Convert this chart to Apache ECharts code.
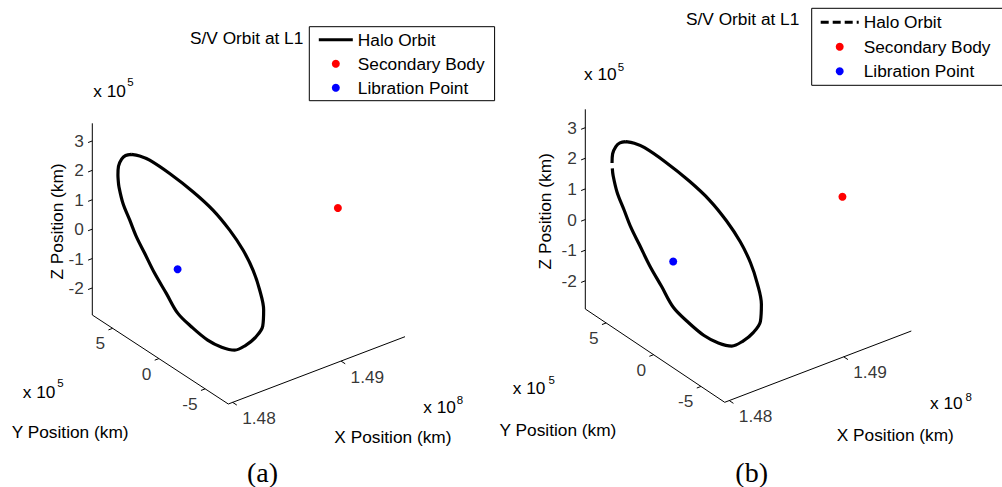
<!DOCTYPE html>
<html>
<head>
<meta charset="utf-8">
<script src="https://cdn.jsdelivr.net/npm/echarts@6/dist/echarts.min.js"></script>
<style>
html,body{margin:0;padding:0;background:#fff;}
#chart{width:1002px;height:487px;}
</style>
</head>
<body>
<div id="chart"></div>
<script>
// ---------- data ----------
// axis limits (X in 1e8 km, Y and Z in 1e5 km)
const xRange = [1.4796, 1.4959];
const yRange = [-7.5, 7.2];
const zRange = [-2.92, 3.6];
// tick values
const xTicks = [1.48, 1.49];
const yTicks = [-5, 0, 5];
const zTicks = [-2, -1, 0, 1, 2, 3];
const xTickLabels = ['1.48', '1.49'];
const yTickLabels = ['-5', '0', '5'];
const zTickLabels = ['-2', '-1', '0', '1', '2', '3'];
// points (X, Y, Z)
const secondaryBody = [1.4958, -0.36, 0];
const librationPoint = [1.4810, -0.38, 0];
// halo orbit, read off the image and expressed on the plane X = orbitPlaneX
// (the 2-D picture cannot resolve depth), Y and Z in 1e5 km
const orbitPlaneX = 1.4810;
const orbitY = [4.62, 3.72, 2.64, 0.48, -2.04, -4.20, -6.01, -7.45, -8.53, -9.25, -9.68, -9.58,
  -8.82, -7.74, -6.55, -5.14, -3.63, -1.90, -0.39, 0.84, 2.10, 3.18, 4.08, 4.80, 5.53, 5.96,
  6.04, 6.07, 6.01, 5.67, 5.24, 4.62];
const orbitZ = [2.88, 3.01, 3.09, 3.08, 2.98, 2.80, 2.49, 2.11, 1.65, 1.12, 0.53, -0.04,
  -0.57, -1.07, -1.48, -1.67, -1.74, -1.65, -1.49, -1.07, -0.65, -0.19, 0.19, 0.61, 1.03, 1.50,
  1.71, 1.88, 2.19, 2.50, 2.71, 2.88];
// index after which panel (b)'s dashed orbit shows a visible break
const orbitBreakB = 26;

// ---------- views (screen projection of the 3-D box for each panel) ----------
const views = {
  a: { corner: [228.3, 404], xVec: [176.7, -67.3], yVec: [-136, -89], zVec: [0, -191.7] },
  b: { corner: [724.7, 402.3], xVec: [186.6, -71.3], yVec: [-139.4, -93.3], zVec: [0, -199.7] }
};
function proj(v, X, Y, Z) {
  const fx = (X - xRange[0]) / (xRange[1] - xRange[0]);
  const fy = (Y - yRange[0]) / (yRange[1] - yRange[0]);
  const fz = (Z - zRange[0]) / (zRange[1] - zRange[0]);
  return [v.corner[0] + fx * v.xVec[0] + fy * v.yVec[0] + fz * v.zVec[0],
          v.corner[1] + fx * v.xVec[1] + fy * v.yVec[1] + fz * v.zVec[1]];
}
function unit(vec, len) {
  const n = Math.hypot(vec[0], vec[1]);
  return [vec[0] / n * len, vec[1] / n * len];
}

const FONT = 'Liberation Sans';
const FS = 17.3;
const series = [];
const graphic = [];

function buildPanel(key, dashed) {
  const v = views[key];
  const [x0, x1] = xRange, [y0, y1] = yRange, [z0, z1] = zRange;
  // axis box lines
  series.push({
    type: 'line', silent: true, symbol: 'none', z: 1,
    lineStyle: { color: '#000', width: 1 },
    data: [proj(v, x0, y1, z1), proj(v, x0, y1, z0), proj(v, x0, y0, z0), proj(v, x1, y0, z0)]
  });
  // tick marks
  const tickData = [];
  const tX = unit([-v.xVec[0], -v.xVec[1]], 4.5); // ticks on Y and Z axes point along -X
  const tY = unit([-v.yVec[0], -v.yVec[1]], 5);   // ticks on X axis point along -Y
  zTicks.forEach(z => { const p = proj(v, x0, y1, z); tickData.push(p, [p[0] + tX[0], p[1] + tX[1]], ['-', '-']); });
  yTicks.forEach(y => { const p = proj(v, x0, y, z0); tickData.push(p, [p[0] + tX[0], p[1] + tX[1]], ['-', '-']); });
  xTicks.forEach(x => { const p = proj(v, x, y0, z0); tickData.push(p, [p[0] + tY[0], p[1] + tY[1]], ['-', '-']); });
  series.push({
    type: 'line', silent: true, symbol: 'none', z: 1, connectNulls: false,
    lineStyle: { color: '#000', width: 1 }, data: tickData
  });
  // tick labels
  const lbl = { show: true, formatter: '{b}', color: '#000', fontFamily: FONT, fontSize: FS };
  series.push({
    type: 'scatter', silent: true, symbolSize: 1, itemStyle: { color: 'rgba(0,0,0,0)' },
    label: Object.assign({ position: 'left', distance: 8 }, lbl),
    data: zTicks.map((z, i) => ({ name: zTickLabels[i], value: proj(v, x0, y1, z) }))
  });
  series.push({
    type: 'scatter', silent: true, symbolSize: 1, itemStyle: { color: 'rgba(0,0,0,0)' },
    label: Object.assign({ position: 'left', distance: 7, offset: [0, 15] }, lbl),
    data: yTicks.map((y, i) => ({ name: yTickLabels[i], value: proj(v, x0, y, z0) }))
  });
  series.push({
    type: 'scatter', silent: true, symbolSize: 1, itemStyle: { color: 'rgba(0,0,0,0)' },
    label: Object.assign({ position: 'right', distance: 9, offset: [0, 15.5] }, lbl),
    data: xTicks.map((x, i) => ({ name: xTickLabels[i], value: proj(v, x, y0, z0) }))
  });
  // orbit
  const orbitData = [];
  orbitY.forEach((y, i) => {
    orbitData.push(proj(v, orbitPlaneX, y, orbitZ[i]));
    if (dashed && i === orbitBreakB) orbitData.push(['-', '-']);
  });
  series.push({
    name: 'Halo Orbit', type: 'line', symbol: 'none', smooth: 0.35, z: 3, connectNulls: false,
    lineStyle: { color: '#000', width: 3.2 }, itemStyle: { color: '#000' },
    data: orbitData
  });
  series.push({
    name: 'Secondary Body', type: 'scatter', symbol: 'circle', symbolSize: 8, z: 4,
    itemStyle: { color: '#ff0000', opacity: 1 },
    data: [proj(v, secondaryBody[0], secondaryBody[1], secondaryBody[2])]
  });
  series.push({
    name: 'Libration Point', type: 'scatter', symbol: 'circle', symbolSize: 8, z: 4,
    itemStyle: { color: '#0000ff', opacity: 1 },
    data: [proj(v, librationPoint[0], librationPoint[1], librationPoint[2])]
  });
}
buildPanel('a', false);
buildPanel('b', true);

function txt(text, x, y, opts) {
  graphic.push(Object.assign({
    type: 'text', x: x, y: y, silent: true,
    style: Object.assign({ text: text, fill: '#000', fontFamily: FONT, fontSize: FS,
      textAlign: 'left', textVerticalAlign: 'middle' }, (opts && opts.style) || {})
  }, opts && opts.rotation ? { rotation: opts.rotation } : {}));
}
function mult(x, y, exp, sx, sy) {
  txt('x 10', x, y);
  txt(exp, sx, sy, { style: { fontSize: 11.5, textAlign: 'center' } });
}
const labelsA = {
  title: [190, 37.5], zMult: [93.3, 90.5, 130.5, 81.7], zName: [56.7, 221.5],
  yMult: [22.7, 391.7, 60.5, 383.3], yName: [11.7, 431.7],
  xMult: [423.3, 407, 460, 400.3], xName: [334.3, 436.7], cap: [262.5, 472.5]
};
const labelsB = {
  title: [686, 19], zMult: [584, 74.2, 621, 66.5], zName: [545, 211.3],
  yMult: [512.7, 388.3, 551.7, 380], yName: [499.5, 430],
  xMult: [930, 403.3, 968.8, 397], xName: [836.7, 435], cap: [751.7, 472.5]
};
[[labelsA, '(a)'], [labelsB, '(b)']].forEach(([L, cap]) => {
  txt('S/V Orbit at L1', L.title[0], L.title[1]);
  mult(L.zMult[0], L.zMult[1], '5', L.zMult[2], L.zMult[3]);
  txt('Z Position (km)', L.zName[0], L.zName[1], { rotation: Math.PI / 2, style: { textAlign: 'center' } });
  mult(L.yMult[0], L.yMult[1], '5', L.yMult[2], L.yMult[3]);
  txt('Y Position (km)', L.yName[0], L.yName[1]);
  mult(L.xMult[0], L.xMult[1], '8', L.xMult[2], L.xMult[3]);
  txt('X Position (km)', L.xName[0], L.xName[1]);
  txt(cap, L.cap[0], L.cap[1], { style: { fontFamily: 'Liberation Serif', fontSize: 28, textAlign: 'center' } });
});

const legendBase = {
  orient: 'vertical', selectedMode: false, borderColor: '#000', borderWidth: 1,
  backgroundColor: '#fff', borderRadius: 0, itemHeight: 8,
  textStyle: { fontFamily: FONT, fontSize: FS, color: '#000', lineHeight: 18 }
};
const hiddenSymbol = { color: 'rgba(0,0,0,0)', borderColor: 'rgba(0,0,0,0)', borderWidth: 0 };

const chart = echarts.init(document.getElementById('chart'), null, { renderer: 'svg' });
chart.setOption({
  animation: false,
  backgroundColor: '#fff',
  grid: { left: 0, right: 0, top: 0, bottom: 0 },
  xAxis: { type: 'value', min: 0, max: 1002, show: false },
  yAxis: { type: 'value', min: 0, max: 487, inverse: true, show: false },
  legend: [
    Object.assign({}, legendBase, {
      left: 309.3, top: 26.7, itemWidth: 34, itemGap: 6, padding: [4, 10, 4, 8],
      data: [{ name: 'Halo Orbit', itemStyle: hiddenSymbol, lineStyle: { width: 3, color: '#000' } },
        'Secondary Body', 'Libration Point']
    }),
    Object.assign({}, legendBase, {
      left: 811.7, top: 8.3, itemWidth: 38, itemGap: 6.5, padding: [5, 14, 5, 7.5],
      data: [{ name: 'Halo Orbit', itemStyle: hiddenSymbol, lineStyle: { width: 3, color: '#000', type: [8, 4] } },
        'Secondary Body', 'Libration Point']
    })
  ],
  graphic: graphic,
  series: series
});
</script>
</body>
</html>
